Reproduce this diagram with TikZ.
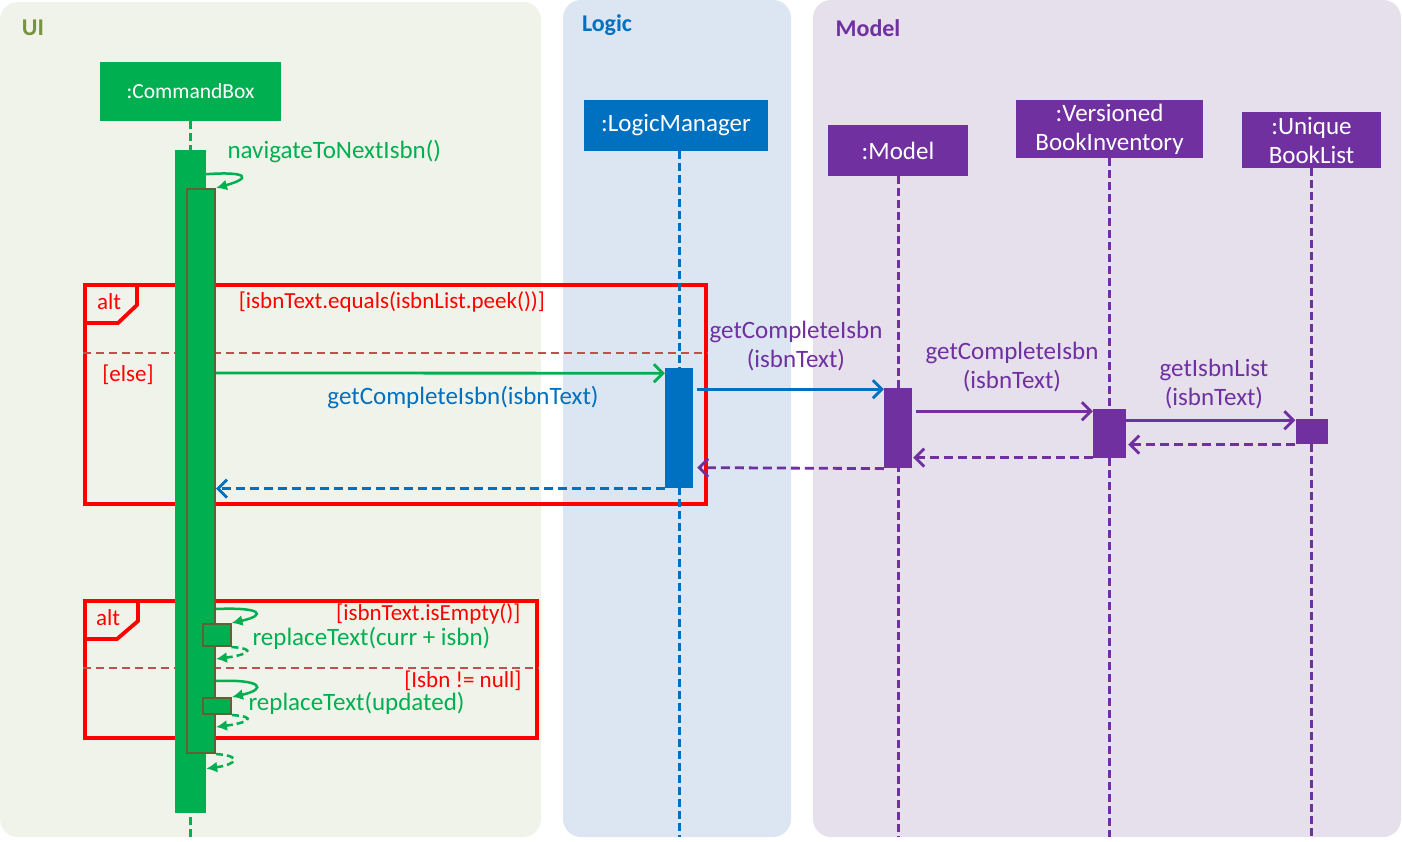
\documentclass[tikz,border=0pt]{standalone}
\usepackage{fontspec}
\setmainfont{Carlito}
\usetikzlibrary{arrows.meta,positioning,calc}
\definecolor{uig}{RGB}{0,176,80}
\definecolor{lgb}{RGB}{0,112,192}
\definecolor{mdp}{RGB}{112,48,160}
\definecolor{olv}{RGB}{119,147,60}
\definecolor{brd}{RGB}{94,98,52}
\definecolor{sepc}{RGB}{192,80,77}
\definecolor{uibg}{RGB}{240,243,233}
\definecolor{lgbg}{RGB}{220,230,242}
\definecolor{mdbg}{RGB}{229,224,236}
\begin{document}
\begin{tikzpicture}[x=1pt,y=-1pt,font=\fontsize{25}{29}\selectfont,
  hd/.style={fill=#1,text=white,inner sep=0pt,align=center},
  act/.style={fill=#1,inner sep=0pt,minimum width=28pt,anchor=north},
  life/.style={#1,line width=3pt,dash pattern=on 8pt off 4pt},
  call/.style={#1,line width=2.8pt,-{Straight Barb[length=9pt,width=18pt]}},
  ret/.style={call=#1,dash pattern=on 9pt off 5pt},
  self/.style={#1,line width=2.5pt,-{Latex[length=11pt,width=11pt]}},
  sret/.style={self=#1,dash pattern=on 7pt off 4pt},
  fr/.style={draw=red,line width=3.8pt,inner sep=0pt,anchor=north west},
  gd/.style={text=red,font=\fontsize{23}{27}\selectfont},
  sep/.style={sepc,line width=1.4pt,dash pattern=on 8pt off 5pt},
  ttl/.style={font=\bfseries\fontsize{24}{28}\selectfont}]
\useasboundingbox (0,0) rectangle (1402,841);
% panels
\fill[uibg,rounded corners=18pt] (0,2) rectangle (541,837);
\fill[lgbg,rounded corners=18pt] (563,0) rectangle (791,837);
\fill[mdbg,rounded corners=18pt] (813,0) rectangle (1401,837);
\node[ttl,text=olv](tUI) at (33,28){UI};
\node[ttl,text=lgb](tLg) at (607,25){Logic};
\node[ttl,text=mdp](tMd) at (868,28){Model};
\coordinate (bot) at (0,837);
% alt frames
\node[fr,minimum width=621pt,minimum height=219pt](alt1) at (83,283){};
\draw[red,line width=3.8pt]([xshift=54pt]alt1.north west)--++(0,22)--++(-19,18)--++(-35,0);
\draw[sep]([yshift=-70pt]alt1.north west)--([yshift=-70pt]alt1.north east);
\node[fr,minimum width=452pt,minimum height=137pt](alt2) at (83,599){};
\draw[red,line width=3.8pt]([xshift=55pt]alt2.north west)--++(0,22)--++(-21,18)--++(-34,0);
\draw[sep]([yshift=-69pt]alt2.north west)--([yshift=-69pt]alt2.north east);
% heads and lifelines
\node[hd=uig,minimum width=181pt,minimum height=59pt,font=\fontsize{21.5}{25}\selectfont](cb) at (190.5,91.5){:CommandBox};
\node[hd=lgb,minimum width=184pt,minimum height=51pt](lm) at (676,125.5){:LogicManager};
\node[hd=mdp,minimum width=140pt,minimum height=51pt](md) at (898,150.5){:Model};
\node[hd=mdp,minimum width=187pt,minimum height=58pt](vbi) at (1109.5,129){:Versioned\\BookInventory};
\node[hd=mdp,minimum width=139pt,minimum height=56pt](ubl) at (1311.5,140){:Unique\\BookList};
\draw[life=uig](cb)--(cb|-bot); \draw[life=lgb]([xshift=3pt]lm.south)--([xshift=3pt]lm|-bot);
\draw[life=mdp](md)--(md|-bot); \draw[life=mdp](vbi)--(vbi|-bot);
\draw[life=mdp](ubl)--(ubl|-bot);
% activations
\node[act=uig,minimum width=31pt,minimum height=663pt,below=29pt of cb](cbA){};
\node[act=uig,draw=brd,line width=2pt,minimum height=564pt](cbB) at (201,188){};
\node[act=lgb,minimum height=120pt,below=217pt of lm,xshift=3pt](lmA){};
\node[act=mdp,minimum height=80pt,below=212pt of md](mdA){};
\node[act=mdp,minimum width=33pt,minimum height=49pt,below=251pt of vbi](vbiA){};
\node[act=mdp,minimum width=32pt,minimum height=25pt,below=251pt of ubl](ublA){};
\node[act=uig,draw=brd,line width=2pt,minimum height=22pt](s1) at (216.5,623){};
\node[act=uig,draw=brd,line width=2pt,minimum height=16pt](s2) at (217,697){};
% first call
\draw[self=uig]([yshift=-24pt]cbA.north east) .. controls +(42,-3) and +(36,-10) .. (cbB.north east);
\node[text=uig,anchor=west](m0) at (224,152){navigateToNextIsbn()};
% alt 1 texts and calls
\node[gd](a1) at (109,302){alt};
\node[gd](g1) at (392,302){[isbnText.equals(isbnList.peek())]};
\node[gd](g2) at (128,375){[else]};
\draw[call=uig]([yshift=-185pt]cbB.north east)--([yshift=-5pt]lmA.north west);
\node[text=lgb](m1) at (463,397){getCompleteIsbn(isbnText)};
\draw[call=lgb]([xshift=4pt,yshift=-21pt]lmA.north east)--([yshift=-1pt]mdA.north west);
\node[text=mdp,align=center](m2) at (796,346){getCompleteIsbn\\(isbnText)};
\draw[call=mdp]([xshift=4pt,yshift=-23pt]mdA.north east)--([yshift=-2pt]vbiA.north west);
\node[text=mdp,align=center](m3) at (1012,367){getCompleteIsbn\\(isbnText)};
\draw[call=mdp]([yshift=-11pt]vbiA.north east)--([yshift=-1pt]ublA.north west);
\node[text=mdp,align=center](m4) at (1214,384){getIsbnList\\(isbnText)};
% returns
\draw[ret=mdp](ublA.south west)--([xshift=2pt,yshift=14pt]vbiA.south east);
\draw[ret=mdp]([yshift=1pt]vbiA.south west)--([xshift=1pt,yshift=11pt]mdA.south east);
\draw[ret=mdp](mdA.south west)--([xshift=4pt,yshift=21pt]lmA.south east);
\draw[ret=lgb](lmA.south west)--(cbB.east|-lmA.south);
% alt 2 texts and self calls
\node[gd](a2) at (108,618){alt};
\node[gd,anchor=east](g3) at (524,614){[isbnText.isEmpty()]};
\node[gd,anchor=east](g4) at (525,681){[Isbn != null]};
\draw[self=uig]([yshift=-421pt]cbB.north east) .. controls +(46,-2) and +(36,-8) .. (s1.north east);
\draw[sret=uig](s1.south east) .. controls +(28,2) and +(30,-4) .. ([yshift=-471pt]cbB.north east);
\node[text=uig,anchor=west](m5) at (249,638){replaceText(curr + isbn)};
\draw[self=uig]([yshift=-493pt]cbB.north east) .. controls +(46,-2) and +(36,-8) .. (s2.north east);
\draw[sret=uig](s2.south east) .. controls +(28,2) and +(30,-4) .. ([yshift=-539pt]cbB.north east);
\node[text=uig,anchor=west](m6) at (245,703){replaceText(updated)};
\draw[sret=uig](cbB.south east) .. controls +(28,2) and +(30,-4) .. ([yshift=45pt]cbA.south east);
\end{tikzpicture}
\end{document}
